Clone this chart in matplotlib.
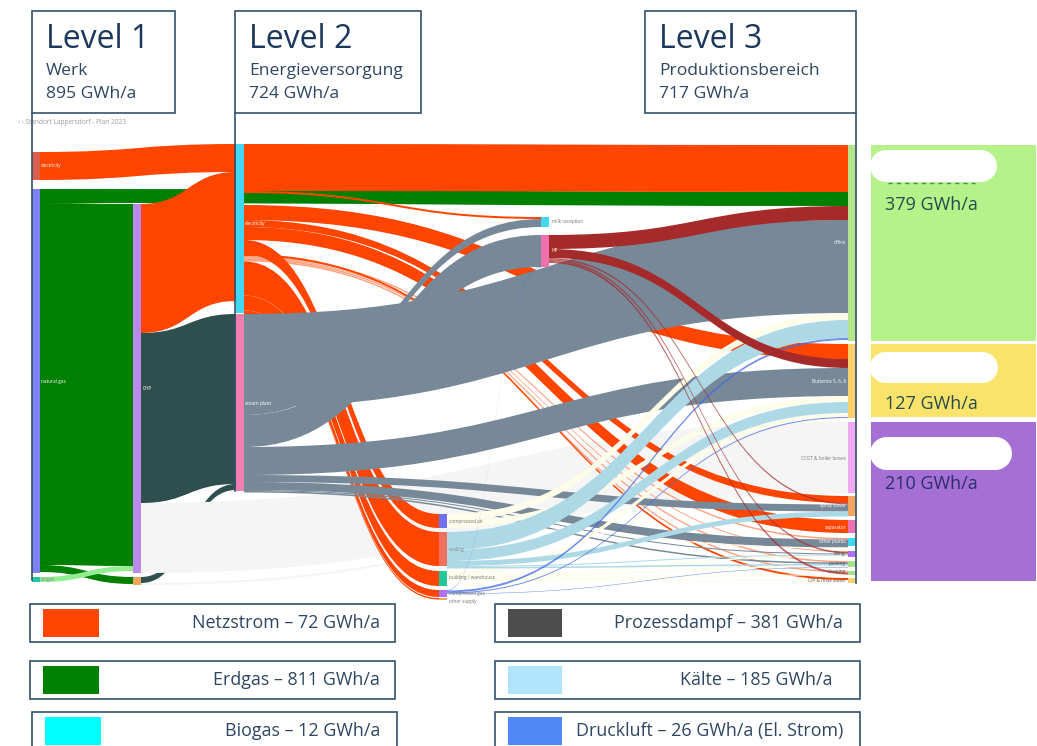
import matplotlib
matplotlib.use("Agg")
import matplotlib.pyplot as plt
from matplotlib.patches import PathPatch, Rectangle, FancyBboxPatch
from matplotlib.path import Path

plt.rcParams['font.family'] = ['Open Sans', 'DejaVu Sans']

# -------------------------------
# Energy flows in GWh/a: (source, target, value)
# -------------------------------
grid_flows = [
    ('electricity', 'electricity supply', 56),
    ('CHP', 'electricity supply', 258),
    ('electricity supply', 'office', 94),
    ('electricity supply', 'milk reception', 4),
    ('electricity supply', 'butter', 30),
    ('electricity supply', 'spray tower', 14),
    ('electricity supply', 'separator', 26),
    ('electricity supply', 'compressed air', 28),
    ('electricity supply', 'cip', 4),
]
grid_thin_flows = [
    ('electricity supply', 'other plants', 3),
    ('electricity supply', 'filling', 2),
    ('electricity supply', 'packing', 3),
    ('electricity supply', 'cleaning', 3),
]
grid_lower_flows = [
    ('electricity supply', 'cooling', 68),
    ('electricity supply', 'building / warehouse', 30),
    ('electricity supply', 'compressed gas', 14),
    ('electricity supply', 'other supply', 3),
]
gas_flows = [
    ('natural gas', 'office', 28),
    ('natural gas', 'CHP', 724),
    ('natural gas', 'boiler', 14),
]
biogas_flows = [
    ('biogas', 'CHP', 10),
]
raw_steam_flows = [
    ('CHP', 'steam plant', 340),
    ('boiler', 'steam plant', 12),
]
loss_flows = [
    ('CHP', 'losses', 140),
    ('boiler', 'losses', 4),
]
steam_flows = [
    ('steam plant', 'office', 186),
    ('steam plant', 'milk reception', 16),
    ('steam plant', 'HP', 64),
    ('steam plant', 'butter', 56),
    ('steam plant', 'spray tower', 14),
    ('steam plant', 'other plants', 16),
    ('steam plant', 'filling', 2),
    ('steam plant', 'packing', 3),
]
hot_water_flows = [
    ('HP', 'office', 28),
    ('HP', 'butter', 18),
]
hot_water_thin_flows = [
    ('HP', 'spray tower', 3),
    ('HP', 'filling', 3),
    ('HP', 'cleaning', 4),
]
process_cream_flows = [
    ('compressed air', 'office', 14),
    ('compressed air', 'butter', 12),
    ('compressed air', 'other plants', 2),
    ('building / warehouse', 'butter', 8),
    ('building / warehouse', 'filling', 3),
    ('building / warehouse', 'packing', 3),
    ('building / warehouse', 'cleaning', 2),
    ('building / warehouse', 'cip', 3),
]
cooling_flows = [
    ('cooling', 'office', 36),
    ('cooling', 'butter', 22),
    ('cooling', 'spray tower', 10),
    ('cooling', 'filling', 2),
    ('cooling', 'packing', 3),
]
air_flows = [
    ('compressed gas', 'HP', 1),
    ('compressed gas', 'office', 4),
    ('compressed gas', 'butter', 2),
    ('compressed gas', 'packing', 1),
]

level_titles = ['Level 1', 'Level 2', 'Level 3']
level_names = ['Werk', 'Energieversorgung', 'Produktionsbereich']
level_totals = ['895 GWh/a', '724 GWh/a', '717 GWh/a']
area_totals = ['379 GWh/a', '127 GWh/a', '210 GWh/a']
legend_labels = ['Netzstrom – 72 GWh/a', 'Erdgas – 811 GWh/a', 'Biogas – 12 GWh/a',
                 'Prozessdampf – 381 GWh/a', 'Kälte – 185 GWh/a', 'Druckluft – 26 GWh/a (El. Strom)']

# -------------------------------
# Layout and styles
# -------------------------------
PX_PER_GWH = 0.5
INK = '#1c375c'
SUBINK = '#2f4662'
FRAME = '#34506f'

# name: (x, top, bottom, colour)
nodes = {
    'electricity': (32, 152, 180, '#d9604f'),
    'natural gas': (32, 189, 573, '#8080f5'),
    'biogas': (32, 577, 582, '#20c8a0'),
    'CHP': (133, 204, 573, '#bb88ee'),
    'boiler': (133, 577, 585, '#f4a460'),
    'electricity supply': (236, 144, 313, '#40d8f0'),
    'steam plant': (236, 314, 491, '#f080b0'),
    'compressed air': (439, 514, 528, '#7070f0'),
    'cooling': (439, 532, 566, '#f07060'),
    'building / warehouse': (439, 571, 586, '#20c898'),
    'compressed gas': (439, 590, 597, '#b070f0'),
    'other supply': (439, 598, 600, '#f4a460'),
    'milk reception': (541, 217, 227, '#40d8f0'),
    'HP': (541, 235, 267, '#f070b0'),
    'office': (848, 145, 341, '#b5e48c'),
    'butter': (848, 344, 418, '#ffd070'),
    'losses': (848, 422, 493, '#f0a8f0'),
    'spray tower': (848, 496, 516, '#f4a460'),
    'separator': (848, 520, 533, '#f070b0'),
    'other plants': (848, 538, 546, '#40d8f0'),
    'filling': (848, 551, 557, '#b070f0'),
    'packing': (848, 561, 567, '#a8e08c'),
    'cleaning': (848, 571, 575, '#a8e08c'),
    'cip': (848, 578, 583, '#ffd070'),
}
NODE_W = 8

# extra space left open at a source before one of its flows
source_gaps = {('electricity supply', 'butter'): 12}

# flows listed in stacking order, with colour, alpha and zorder
carriers = [
    (grid_flows, '#ff4500', 1.0, 3),
    (grid_thin_flows, '#ff4500', 0.5, 3),
    (grid_lower_flows, '#ff4500', 1.0, 3),
    (gas_flows, '#008000', 1.0, 2.5),
    (biogas_flows, '#90ee90', 1.0, 5),
    (raw_steam_flows, '#2f4f4f', 1.0, 1),
    (loss_flows, '#f5f5f5', 1.0, 2),
    (steam_flows, '#778899', 1.0, 6),
    (hot_water_flows, '#a52a2a', 1.0, 10),
    (hot_water_thin_flows, '#a52a2a', 0.75, 10),
    (process_cream_flows, '#fdfdea', 1.0, 7),
    (cooling_flows, '#add8e6', 1.0, 8),
    (air_flows, '#4169e1', 0.75, 9),
]

node_labels = [
    ('electricity', 41, 165, 'left', 'white'),
    ('natural gas', 41, 381, 'left', 'white'),
    ('biogas', 41, 579, 'left', '#888888'),
    ('CHP', 143, 388, 'left', 'white'),
    ('electricity', 245, 224, 'left', 'white'),
    ('steam plant', 245, 403, 'left', 'white'),
    ('compressed air', 449, 521, 'left', '#777777'),
    ('cooling', 449, 549, 'left', '#888888'),
    ('building / warehouse', 449, 578, 'left', '#777777'),
    ('compressed gas', 449, 594, 'left', '#777777'),
    ('other supply', 449, 601, 'left', '#777777'),
    ('milk reception', 552, 221, 'left', '#777777'),
    ('HP', 552, 251, 'left', 'white'),
    ('office', 846, 242, 'right', 'white'),
    ('Butterice 5, 6, 8', 846, 381, 'right', 'white'),
    ('CCGT & boiler losses', 846, 458, 'right', '#777777'),
    ('spray tower', 846, 506, 'right', 'white'),
    ('separator', 846, 527, 'right', 'white'),
    ('other plants', 846, 542, 'right', 'white'),
    ('filling', 846, 553, 'right', '#555555'),
    ('packing', 846, 563, 'right', '#555555'),
    ('cleaning', 846, 572, 'right', '#555555'),
    ('CIP & rinse water', 846, 580, 'right', '#555555'),
]

fig = plt.figure(figsize=(10.37, 7.46), dpi=100)
ax = fig.add_axes([0, 0, 1, 1])
ax.set_xlim(0, 1037)
ax.set_ylim(746, 0)
ax.axis('off')

# -------------------------------
# Sankey ribbons, stacked at both ends of every node
# -------------------------------
all_flows = []
for flows, colour, alpha, z in carriers:
    for source, target, value in flows:
        all_flows.append({'source': source, 'target': target,
                          'h': value * PX_PER_GWH,
                          'colour': colour, 'alpha': alpha, 'z': z})

next_out = {name: n[1] for name, n in nodes.items()}
for f in all_flows:
    next_out[f['source']] += source_gaps.get((f['source'], f['target']), 0)
    f['y0'] = next_out[f['source']]
    next_out[f['source']] += f['h']

next_in = {name: n[1] for name, n in nodes.items()}
for f in sorted(all_flows, key=lambda f: nodes[f['source']][1]):
    f['y1'] = next_in[f['target']]
    next_in[f['target']] += f['h']

for f in all_flows:
    x0 = nodes[f['source']][0] + NODE_W
    x1 = nodes[f['target']][0]
    mid = (x0 + x1) / 2
    y0, y1, h = f['y0'], f['y1'], f['h']
    verts = [(x0, y0), (mid, y0), (mid, y1), (x1, y1),
             (x1, y1 + h), (mid, y1 + h), (mid, y0 + h), (x0, y0 + h), (x0, y0)]
    codes = [Path.MOVETO, Path.CURVE4, Path.CURVE4, Path.CURVE4,
             Path.LINETO, Path.CURVE4, Path.CURVE4, Path.CURVE4, Path.CLOSEPOLY]
    ax.add_patch(PathPatch(Path(verts, codes), facecolor=f['colour'], edgecolor='none',
                           lw=0, alpha=f['alpha'], zorder=f['z']))

for name, (x, top, bottom, colour) in nodes.items():
    ax.add_patch(Rectangle((x, top), NODE_W, bottom - top, facecolor=colour,
                           edgecolor='none', zorder=12))

for label, x, y, ha, colour in node_labels:
    ax.text(x, y, label, fontsize=3.4, color=colour, ha=ha, va='center', zorder=13)

ax.text(18, 122, '‹ › Standort Lappersdorf - Plan 2023', fontsize=4.7, color='#9a9a9a',
        va='center', zorder=13)

# -------------------------------
# Level header boxes with their guide lines
# -------------------------------
header_boxes = [(32, 175), (235, 421), (645, 856)]
guide_lines = [(32, 113, 580), (235, 113, 491), (856, 113, 583)]
for i, (left, right) in enumerate(header_boxes):
    ax.add_patch(Rectangle((left, 11), right - left, 102, facecolor='white',
                           edgecolor=FRAME, lw=1.2, zorder=14))
    ax.text(left + 14, 40, level_titles[i], fontsize=23, color=INK, va='center', zorder=15)
    ax.text(left + 14, 71, level_names[i], fontsize=12.6, color=SUBINK, va='center', zorder=15)
    ax.text(left + 14, 94, level_totals[i], fontsize=12.6, color=SUBINK, va='center', zorder=15)
for x, top, bottom in guide_lines:
    ax.plot([x, x], [top, bottom], color=FRAME, lw=1.2, zorder=14)

# -------------------------------
# Production areas on the right
# -------------------------------
panels = [(145, 341, '#b5f28a', 150, 182, 997, 205),
          (344, 417, '#fae36b', 352, 383, 998, 404),
          (422, 581, '#a66fd6', 437, 470, 1012, 484)]
for i, (top, bottom, colour, pill_top, pill_bottom, pill_right, text_y) in enumerate(panels):
    ax.add_patch(Rectangle((871, top), 165, bottom - top, facecolor=colour, edgecolor='none'))
    radius = (pill_bottom - pill_top) / 2
    ax.add_patch(FancyBboxPatch((870 + radius, pill_top + radius), pill_right - 870 - 2 * radius, 0,
                                boxstyle=f'round,pad=0,rounding_size=0', facecolor='white',
                                edgecolor='white', lw=(pill_bottom - pill_top) * 0.72,
                                capstyle='round', zorder=3))
    ax.text(885, text_y, area_totals[i], fontsize=13, color='#2a2f6a' if i == 2 else '#264a4c',
            va='center', zorder=4)

# remains of lettering showing under the first white pill
ax.plot([888, 975], [183, 183], color='#2c5a50', lw=1.0, alpha=0.7,
        dashes=(3, 3), zorder=2)

# -------------------------------
# Carrier legend along the bottom
# -------------------------------
legend_rows = [(604, 642), (661, 699), (712, 760)]
legend_colours = ['#ff4500', '#008000', '#00ffff', '#4d4d4d', '#b0e4fb', '#5088f5']
text_right = [380, 380, 380, 843, 832, 843]
for col, (left, right) in enumerate([(30, 395), (495, 860)]):
    for row, (top, bottom) in enumerate(legend_rows):
        shift = 2 if (col, row) == (0, 2) else 0
        ax.add_patch(Rectangle((left + shift, top), right - left, bottom - top, facecolor='white',
                               edgecolor=FRAME, lw=1.2, zorder=2))
        ax.add_patch(Rectangle((left + 13 + shift, top + 5), 56 if col == 0 else 54, 28,
                               facecolor=legend_colours[col * 3 + row], edgecolor='none', zorder=3))
        ax.text(text_right[col * 3 + row], top + 19, legend_labels[col * 3 + row],
                fontsize=12.9, color=SUBINK, ha='right', va='center', zorder=3)

fig.savefig('out.png', dpi=100)
